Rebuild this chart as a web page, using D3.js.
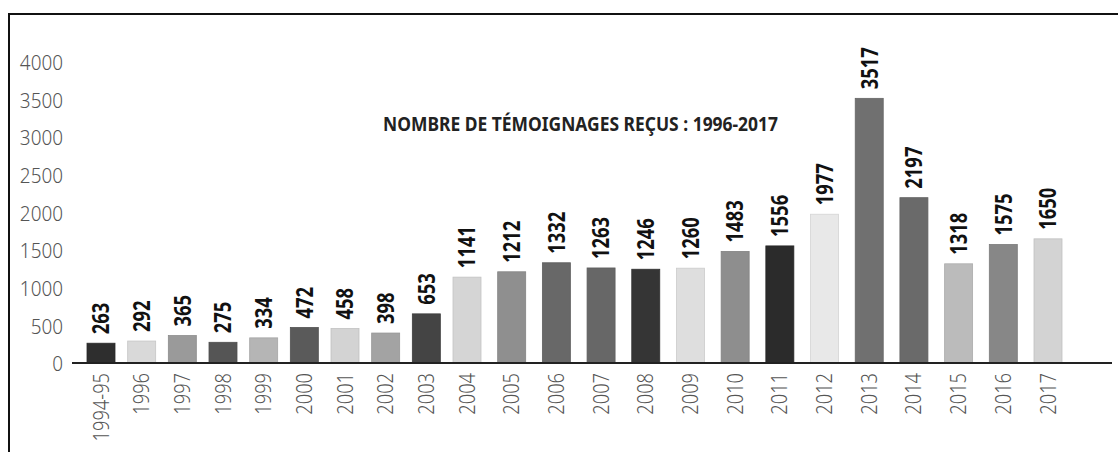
<!DOCTYPE html>
<meta charset="utf-8">
<script src="https://d3js.org/d3.v7.min.js"></script>
<style>
  body { margin: 0; background: #fff; }
  text { font-family: "Noto Sans", sans-serif; }
</style>
<div id="chart"></div>
<script>
    // data
    var years = ["1994-95", "1996", "1997", "1998", "1999", "2000", "2001", "2002", "2003", "2004", "2005",
                 "2006", "2007", "2008", "2009", "2010", "2011", "2012", "2013", "2014", "2015", "2016", "2017"];
    var counts = [263, 292, 365, 275, 334, 472, 458, 398, 653, 1141, 1212,
                  1332, 1263, 1246, 1260, 1483, 1556, 1977, 3517, 2197, 1318, 1575, 1650];
    var shades = ["#2e2e2e", "#d9d9d9", "#9a9a9a", "#555555", "#b5b5b5", "#5a5a5a", "#d3d3d3", "#a3a3a3",
                  "#444444", "#d5d5d5", "#8f8f8f", "#686868", "#676767", "#353535", "#dedede", "#8e8e8e",
                  "#2b2b2b", "#e8e8e8", "#707070", "#6a6a6a", "#bbbbbb", "#878787", "#d3d3d3"];
    var yTicks = [0, 500, 1000, 1500, 2000, 2500, 3000, 3500, 4000];
    var title = "NOMBRE DE TÉMOIGNAGES REÇUS : 1996-2017";

    var W = 1118, H = 452;
    var barW = 28;

    var svg = d3.select("#chart")
      .append("svg")
        .attr("width", W)
        .attr("height", H);

    // frame (top + left edge)
    svg.append("path")
      .attr("d", "M9,452V14H1118")
      .attr("fill", "none")
      .attr("stroke", "#111")
      .attr("stroke-width", 2);

    // the source spacing is not even: tighter for the early years
    var x = d3.scaleLinear()
      .domain([0, 9, years.length - 1])
      .range([101, 467, 1048]);

    var y = d3.scaleLinear()
      .domain([0, 4000])
      .range([363, 62]);

    // y labels (no axis line)
    svg.append("g")
      .attr("transform", "translate(63,0)")
      .call(d3.axisLeft(y).tickValues(yTicks).tickSize(0).tickPadding(0).tickFormat(d3.format("d")))
      .call(function(g) { g.select(".domain").remove(); })
      .selectAll("text")
        .attr("font-family", "Noto Sans, sans-serif")
        .attr("font-size", 21)
        .attr("font-weight", 300)
        .attr("fill", "#555")
        .attr("x", 0)
        .attr("transform", function(d) { return "translate(0," + (y(d) + 1) + ") scale(0.9,1) translate(0," + (-y(d)) + ")"; });

    // bars
    svg.append("g")
      .selectAll("rect")
      .data(counts)
      .enter()
      .append("rect")
        .attr("x", function(d, i) { return x(i) - barW / 2; })
        .attr("y", function(d) { return y(d); })
        .attr("width", barW)
        .attr("height", function(d) { return y(0) - y(d); })
        .attr("fill", function(d, i) { return shades[i]; })
        .attr("stroke", function(d, i) { return d3.color(shades[i]).darker(0.25); })
        .attr("stroke-width", 0.8);

    // baseline
    svg.append("line")
      .attr("x1", 72).attr("x2", 1112)
      .attr("y1", y(0)).attr("y2", y(0))
      .attr("stroke", "#222")
      .attr("stroke-width", 2);

    // value labels
    svg.append("g")
      .selectAll("text")
      .data(counts)
      .enter()
      .append("text")
        .attr("transform", function(d, i) { return "translate(" + x(i) + "," + (y(d) - 9) + ") rotate(-90) scale(0.8,1)"; })
        .attr("dy", "0.36em")
        .attr("font-size", 23)
        .attr("font-weight", "bold")
        .attr("fill", "#111")
        .text(function(d) { return d; });

    // category labels
    svg.append("g")
      .selectAll("text")
      .data(years)
      .enter()
      .append("text")
        .attr("transform", function(d, i) { return "translate(" + x(i) + ",373) rotate(-90) scale(0.87,1)"; })
        .attr("dy", "0.36em")
        .attr("text-anchor", "end")
        .attr("font-size", 21)
        .attr("font-weight", 300)
        .attr("fill", "#555")
        .text(function(d) { return d; });

    // title
    svg.append("text")
      .attr("x", 383)
      .attr("y", 131)
      .attr("font-size", 19.5)
      .attr("font-weight", "bold")
      .attr("fill", "#222")
      .attr("textLength", 395)
      .attr("lengthAdjust", "spacingAndGlyphs")
      .text(title);
</script>
